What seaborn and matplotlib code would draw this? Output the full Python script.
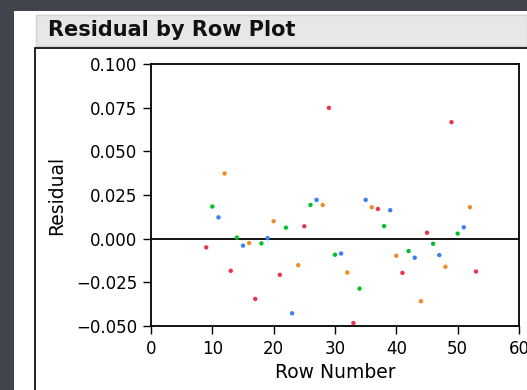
import matplotlib
matplotlib.use("Agg")
import matplotlib.pyplot as plt
from matplotlib.patches import Rectangle
import seaborn as sns
import pandas as pd

# ---- data ----
rows = list(range(9, 54))
residuals = [
    -0.0050, 0.0184, 0.0122, 0.0373, -0.0184, 0.0006, -0.0040, -0.0025,
    -0.0345, -0.0027, 0.0003, 0.0100, -0.0207, 0.0063, -0.0427, -0.0152,
    0.0071, 0.0193, 0.0222, 0.0193, 0.0749, -0.0092, -0.0085, -0.0194,
    -0.0483, -0.0286, 0.0222, 0.0180, 0.0170, 0.0072, 0.0163, -0.0098,
    -0.0196, -0.0071, -0.0109, -0.0358, 0.0034, -0.0029, -0.0094, -0.0161,
    0.0667, 0.0029, 0.0065, 0.0180, -0.0188,
]
group_names = ["A", "B", "C", "D"]
groups = [group_names[(r - 9) % 4] for r in rows]
xticks = [0, 10, 20, 30, 40, 50, 60]
yticks = [-0.050, -0.025, 0.000, 0.025, 0.050, 0.075, 0.100]

palette = {"A": "#ea3550", "B": "#05c02a", "C": "#3a80f2", "D": "#f18b2a"}

df = pd.DataFrame({"Row Number": rows, "Residual": residuals, "group": groups})

sns.set_style("white")
plt.rcParams["font.family"] = ["DejaVu Sans"]

W, H = 527, 390
fig = plt.figure(figsize=(W / 100, H / 100), dpi=100)
fig.patch.set_facecolor("#40444d")

def fx(px):
    return px / W

def fy(py):
    return 1 - py / H

# white panel
fig.add_artist(Rectangle((fx(14), 0), 1 - fx(14), fy(11), transform=fig.transFigure,
                         facecolor="white", edgecolor="none", zorder=0))
# title bar
fig.add_artist(Rectangle((fx(36), fy(46)), 1 - fx(36), (46 - 15) / H, transform=fig.transFigure,
                         facecolor="#e7e7e7", edgecolor="#d2d2d2", linewidth=1.0, zorder=1))
# black outline box
fig.add_artist(Rectangle((fx(35), fy(390) - 0.01), 1.0, fy(48) - fy(390) + 0.01, transform=fig.transFigure,
                         facecolor="none", edgecolor="#111111", linewidth=1.3, zorder=2))
fig.text(fx(48), fy(30), "Residual by Row Plot", fontsize=15, fontweight="bold",
         ha="left", va="center", color="#111111", zorder=3)

ax = fig.add_axes([fx(151), fy(326), fx(519) - fx(151), fy(64) - fy(326)])
ax.set_facecolor("white")

sns.scatterplot(data=df, x="Row Number", y="Residual", hue="group", palette=palette,
                s=10, linewidth=0, legend=False, ax=ax, zorder=3)
ax.axhline(0, color="black", linewidth=1.3, zorder=2)

ax.set_xlim(0, 60)
ax.set_ylim(-0.050, 0.100)
ax.set_xticks(xticks)
ax.set_yticks(yticks)
ax.set_yticklabels([f"{v:.3f}".replace("-", "\u2212") for v in yticks])
ax.tick_params(axis="both", direction="out", length=6, width=1.0, color="black",
               labelsize=12, labelcolor="black", pad=4, bottom=True, left=True)
for sp in ax.spines.values():
    sp.set_color("black")
    sp.set_linewidth(1.3)
    sp.set_visible(True)
ax.set_xlabel("Row Number", fontsize=13.5, labelpad=4, color="black")
ax.set_ylabel("Residual", fontsize=13.5, labelpad=7, color="black")

fig.savefig("out.png", dpi=100, facecolor=fig.get_facecolor())
